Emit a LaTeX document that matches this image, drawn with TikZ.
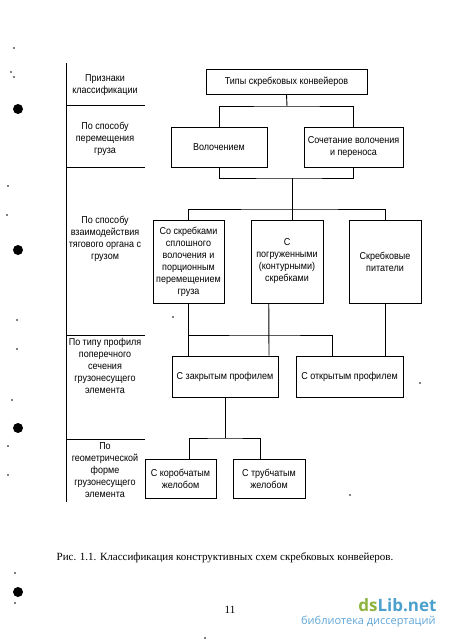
\documentclass[tikz,border=0pt]{standalone}
\usepackage{fontspec}
\setmainfont{Liberation Sans}[FakeStretch=0.9]
\newfontfamily\capfont{Liberation Serif}
\newfontfamily\wmfont{Open Sans}
\usetikzlibrary{calc}
\definecolor{wmgreen}{RGB}{140,180,60}
\definecolor{wmblue}{RGB}{75,160,205}
\definecolor{wmlight}{RGB}{95,165,215}

\begin{document}
\begin{tikzpicture}[x=1pt, y=-1pt, line width=0.9pt,
  box/.style={draw, align=center, inner sep=1pt, font=\fontsize{10}{12}\selectfont},
  crit/.style={align=center, inner sep=0pt, font=\fontsize{10}{12}\selectfont},
  hole/.style={fill=black}]
\useasboundingbox (0,0) rectangle (450,643);

% Left column with classification criteria
\draw (66,63) -- (66,502);
\foreach \y in {105,167,335,439}
  \draw (66,\y) -- (145,\y);
\node[crit] (critA) at (105,85.5) {Признаки\\классификации};
\node[crit] (critB) at (105,139) {По способу\\перемещения\\груза};
\node[crit] (critC) at (105,239) {По способу\\взаимодействия\\тягового органа с\\грузом};
\node[crit] (critD) at (105,366) {По типу профиля\\поперечного\\сечения\\грузонесущего\\элемента};
\node[crit] (critE) at (105,470) {По\\геометрической\\форме\\грузонесущего\\элемента};

% Boxes
\node[box, minimum width=161pt, minimum height=25pt] (types) at (286.5,81.5) {Типы скребковых конвейеров};
\node[box, minimum width=96pt, minimum height=40pt] (drag) at (219,147) {Волочением};
\node[box, minimum width=99pt, minimum height=40pt] (mixed) at (353.5,147) {Сочетание волочения\\и переноса};
\node[box, minimum width=71pt, minimum height=83pt] (solid) at (188.5,261.5) {Со скребками\\сплошного\\волочения и\\порционным\\перемещением\\груза};
\node[box, minimum width=72pt, minimum height=83pt] (sunk) at (287,261.5) {С\\погруженными\\(контурными)\\скребками};
\node[box, minimum width=72pt, minimum height=83pt] (feed) at (385,261.5) {Скребковые\\питатели};
\node[box, minimum width=106pt, minimum height=41pt] (closed) at (225,376.5) {С закрытым профилем};
\node[box, minimum width=107pt, minimum height=41pt] (open) at (349.5,376.5) {С открытым профилем};
\node[box, minimum width=71pt, minimum height=39pt] (boxch) at (180.5,478.5) {С коробчатым\\желобом};
\node[box, minimum width=72pt, minimum height=39pt] (tubech) at (269,478.5) {С трубчатым\\желобом};

% Connectors
\coordinate (j1) at (287,106);
\coordinate (j2) at (292,178);
\coordinate (j3) at (292,209);
\coordinate (j4) at (269,335);
\coordinate (j5) at (225,438);
\draw (types.south) -- (j1);
\draw (drag.north) |- (j1) -| (mixed.north);
\draw (drag.south) |- (j2) -| (mixed.south);
\draw (j2) -- (j2 |- sunk.north);
\draw (solid.north) |- (j3) -| (feed.north);
\draw (solid.south) -- (solid.south |- closed.north);
\draw ($(sunk.south west)!0.25!(sunk.south east)$) -- (j4 |- closed.north);
\draw (solid.south |- j4) -- (j4) -| ($(open.north west)!0.34!(open.north east)$);
\draw (feed.south) -- (feed.south |- open.north);
\draw (closed.south) -- (j5);
\draw ([xshift=8.5pt]boxch.north) |- (j5) -| ([xshift=-9pt]tubech.north);

% Caption and page number
\node[font=\capfont\fontsize{11}{13}\selectfont] (caption) at (225,558) {Рис. 1.1. Классификация конструктивных схем скребковых конвейеров.};
\node[font=\capfont\fontsize{11}{13}\selectfont] (page) at (230,610) {11};

% Watermark
\node[font=\wmfont\bfseries\fontsize{17}{18}\selectfont, anchor=east, inner sep=0pt] (wm) at (437,605) {\textcolor{wmgreen}{ds}\textcolor{wmblue}{Lib.net}};
\node[font=\wmfont\fontsize{11}{12}\selectfont, text=wmlight, anchor=east, inner sep=0pt] (wmsub) at (436,622) {библиотека диссертаций};

% Punch holes and specks
\foreach \y in {109,250,428,592}
  \fill[hole] (18,\y) circle (5pt);
\foreach \x/\y in {14/48,11/72,14/77,8/186,7/215,17/320,17/349,12/400,8/446,8/475,15/573,15/603,173/317,420/383,350/495,205/638}
  \fill[hole] (\x,\y) circle (0.9pt);
\end{tikzpicture}
\end{document}
